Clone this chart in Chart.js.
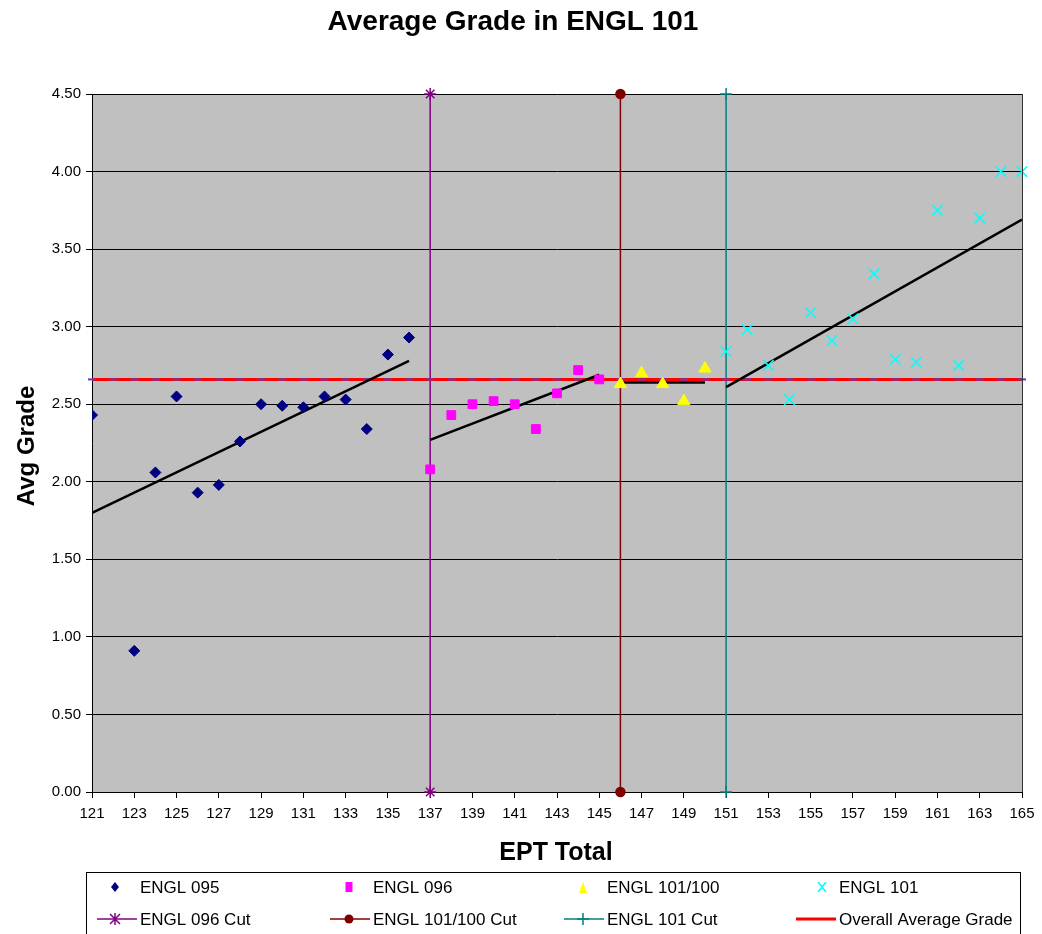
<!DOCTYPE html>
<html>
<head>
<meta charset="utf-8">
<title>Average Grade in ENGL 101</title>
<script src="https://cdn.jsdelivr.net/npm/chart.js@4.4.1/dist/chart.umd.min.js"></script>
<style>
    html, body { margin: 0; padding: 0; background: #fff; }
    #wrap { position: relative; width: 1042px; height: 934px; }
</style>
</head>
<body>
<div id="wrap"><canvas id="gradeChart" width="1042" height="934"></canvas></div>
<script>
const FONT = '"Liberation Sans", Arial, sans-serif';

// EPT scores and average grades per placement group
const ept095 = [121, 123, 124, 125, 126, 127, 128, 129, 130, 131, 132, 133, 134, 135, 136];
const grade095 = [2.43, 0.91, 2.06, 2.55, 1.93, 1.98, 2.26, 2.50, 2.49, 2.48, 2.55, 2.53, 2.34, 2.82, 2.93];

const ept096 = [137, 138, 139, 140, 141, 142, 143, 144, 145];
const grade096 = [2.08, 2.43, 2.50, 2.52, 2.50, 2.34, 2.57, 2.72, 2.66];

const ept101_100 = [146, 147, 148, 149, 150];
const grade101_100 = [2.63, 2.70, 2.63, 2.52, 2.73];

const ept101 = [151, 152, 153, 154, 155, 156, 157, 158, 159, 160, 161, 162, 163, 164, 165];
const grade101 = [2.84, 2.98, 2.75, 2.53, 3.09, 2.91, 3.05, 3.34, 2.79, 2.77, 3.75, 2.75, 3.70, 4.00, 4.00];

// trend line end points (x, y)
const trendX095 = [121, 136];
const trendY095 = [1.80, 2.78];
const trendX096 = [137, 145];
const trendY096 = [2.27, 2.69];
const trendX101_100 = [146, 150];
const trendY101_100 = [2.64, 2.64];
const trendX101 = [151, 165];
const trendY101 = [2.61, 3.69];

// cut scores, drawn as vertical lines
const cut096 = 137;
const cut101_100 = 146;
const cut101 = 151;
const cutRange = [0, 4.5];

// overall average, marked at every EPT score
const overallAverage = 2.66;
const allEpt = [121, 122, 123, 124, 125, 126, 127, 128, 129, 130, 131, 132, 133, 134, 135, 136, 137, 138, 139, 140, 141, 142, 143,
    144, 145, 146, 147, 148, 149, 150, 151, 152, 153, 154, 155, 156, 157, 158, 159, 160, 161, 162, 163, 164, 165];

const xMin = 121, xMax = 165, xStep = 2;
const yMin = 0, yMax = 4.5, yStep = 0.5;

const colors = {
    e095: '#000080',
    e096: '#FF00FF',
    e101_100: '#FFFF00',
    e101: '#00FFFF',
    cut096: '#800080',
    cut101_100: '#800000',
    cut101: '#008080',
    average: '#FF0000',
    avgDash: '#4444CC',
    trend: '#000000',
    plot: '#C0C0C0'
};

function toPoints(xs, ys) {
    return xs.map((x, i) => ({ x: x, y: ys[i] }));
}

function cutLine(x) {
    return cutRange.map(y => ({ x: x, y: y }));
}

function trendSet(xs, ys) {
    return {
        label: 'trend',
        data: toPoints(xs, ys),
        showLine: true,
        borderColor: colors.trend,
        borderWidth: 2.5,
        pointRadius: 0,
        order: 2
    };
}

// legend entries (drawn by the plugin below)
const legendItems = [
    { text: 'ENGL 095', style: 'diamond', color: colors.e095, line: false },
    { text: 'ENGL 096', style: 'square', color: colors.e096, line: false },
    { text: 'ENGL 101/100', style: 'triangle', color: colors.e101_100, line: false },
    { text: 'ENGL 101', style: 'x', color: colors.e101, line: false },
    { text: 'ENGL 096 Cut', style: 'star', color: colors.cut096, line: true },
    { text: 'ENGL 101/100 Cut', style: 'circle', color: colors.cut101_100, line: true },
    { text: 'ENGL 101 Cut', style: 'plus', color: colors.cut101, line: true },
    { text: 'Overall Average Grade', style: 'none', color: colors.average, line: true, thick: true }
];

function drawMarker(ctx, style, x, y, color) {
    ctx.save();
    ctx.fillStyle = color;
    ctx.strokeStyle = color;
    ctx.lineWidth = 1.5;
    ctx.beginPath();
    if (style === 'diamond') {
        ctx.moveTo(x, y - 5); ctx.lineTo(x + 4, y); ctx.lineTo(x, y + 5); ctx.lineTo(x - 4, y);
        ctx.closePath(); ctx.fill();
    } else if (style === 'square') {
        ctx.fillRect(x - 3.5, y - 5, 7, 10);
    } else if (style === 'triangle') {
        ctx.moveTo(x, y - 5); ctx.lineTo(x + 4, y + 6); ctx.lineTo(x - 4, y + 6);
        ctx.closePath(); ctx.fill();
    } else if (style === 'x') {
        ctx.moveTo(x - 4, y - 5); ctx.lineTo(x + 4, y + 5);
        ctx.moveTo(x + 4, y - 5); ctx.lineTo(x - 4, y + 5); ctx.stroke();
    } else if (style === 'star') {
        ctx.moveTo(x - 5, y - 5); ctx.lineTo(x + 5, y + 5);
        ctx.moveTo(x + 5, y - 5); ctx.lineTo(x - 5, y + 5);
        ctx.moveTo(x, y - 6); ctx.lineTo(x, y + 6); ctx.stroke();
    } else if (style === 'circle') {
        ctx.arc(x, y, 4.5, 0, Math.PI * 2); ctx.fill();
    } else if (style === 'plus') {
        ctx.moveTo(x - 6, y); ctx.lineTo(x + 6, y);
        ctx.moveTo(x, y - 6); ctx.lineTo(x, y + 6); ctx.stroke();
    }
    ctx.restore();
}

const excelLook = {
    id: 'excelLook',
    beforeDraw(chart) {
        const { ctx, chartArea: a } = chart;
        ctx.save();
        ctx.fillStyle = colors.plot;
        ctx.fillRect(a.left, a.top, a.right - a.left, a.bottom - a.top);
        ctx.restore();
    },
    afterDraw(chart) {
        const { ctx, chartArea: a } = chart;
        ctx.save();
        // plot area right edge
        ctx.strokeStyle = '#333';
        ctx.lineWidth = 1;
        ctx.beginPath();
        ctx.moveTo(a.right + 0.5, a.top);
        ctx.lineTo(a.right + 0.5, a.bottom);
        ctx.stroke();

        // titles
        ctx.fillStyle = '#000';
        ctx.textAlign = 'center';
        ctx.textBaseline = 'middle';
        ctx.font = 'bold 28px ' + FONT;
        ctx.fillText('Average Grade in ENGL 101', 513, 22);
        ctx.font = 'bold 25px ' + FONT;
        ctx.fillText('EPT Total', 556, 853);
        ctx.save();
        ctx.translate(27, 446);
        ctx.rotate(-Math.PI / 2);
        ctx.font = 'bold 24px ' + FONT;
        ctx.fillText('Avg Grade', 0, 0);
        ctx.restore();

        // legend box
        ctx.strokeStyle = '#000';
        ctx.lineWidth = 1;
        ctx.strokeRect(86.5, 872.5, 934, 80);
        const colMarker = [115, 349, 583, 822];
        const colText = [140, 373, 607, 839];
        const rowY = [887, 919];
        ctx.font = '17px ' + FONT;
        ctx.textAlign = 'left';
        legendItems.forEach((item, i) => {
            const col = i % 4;
            const row = Math.floor(i / 4);
            const y = rowY[row];
            const mx = colMarker[col];
            if (item.line) {
                ctx.save();
                ctx.strokeStyle = item.color;
                ctx.lineWidth = item.thick ? 3 : 1.5;
                ctx.beginPath();
                ctx.moveTo(colText[col] - 43, y);
                ctx.lineTo(colText[col] - 3, y);
                ctx.stroke();
                ctx.restore();
            }
            if (item.style !== 'none') {
                drawMarker(ctx, item.style, mx, y, item.color);
            }
            ctx.fillStyle = '#000';
            ctx.fillText(item.text, colText[col], y + 1);
        });
        ctx.restore();
    }
};

const ctx = document.getElementById('gradeChart').getContext('2d');

window.myChart = new Chart(ctx, {
    type: 'scatter',
    data: {
        datasets: [
            {
                label: 'ENGL 095',
                data: toPoints(ept095, grade095),
                pointStyle: 'rectRot',
                pointRadius: 5.5,
                backgroundColor: colors.e095,
                borderColor: colors.e095,
                borderWidth: 1,
                order: 1
            },
            {
                label: 'ENGL 096',
                data: toPoints(ept096, grade096),
                pointStyle: 'rect',
                pointRadius: 6.2,
                backgroundColor: colors.e096,
                borderColor: colors.e096,
                borderWidth: 1,
                order: 1
            },
            {
                label: 'ENGL 101/100',
                data: toPoints(ept101_100, grade101_100),
                pointStyle: 'triangle',
                pointRadius: 7,
                backgroundColor: colors.e101_100,
                borderColor: colors.e101_100,
                borderWidth: 1,
                order: 1
            },
            {
                label: 'ENGL 101',
                data: toPoints(ept101, grade101),
                pointStyle: 'crossRot',
                pointRadius: 7.5,
                backgroundColor: colors.e101,
                borderColor: colors.e101,
                borderWidth: 1.5,
                order: 1,
                clip: false
            },
            trendSet(trendX095, trendY095),
            trendSet(trendX096, trendY096),
            trendSet(trendX101_100, trendY101_100),
            trendSet(trendX101, trendY101),
            {
                label: 'avg marks',
                data: allEpt.map(x => ({ x: x, y: overallAverage })),
                pointStyle: 'line',
                pointRadius: 4,
                borderColor: colors.avgDash,
                borderWidth: 2,
                order: 3,
                clip: false
            },
            {
                label: 'Overall Average Grade',
                data: toPoints([xMin, xMax], [overallAverage, overallAverage]),
                showLine: true,
                borderColor: colors.average,
                borderWidth: 3,
                pointRadius: 0,
                order: 4,
                clip: false
            },
            {
                label: 'ENGL 096 Cut',
                data: cutLine(cut096),
                showLine: true,
                pointStyle: 'star',
                pointRadius: 6,
                borderColor: colors.cut096,
                backgroundColor: colors.cut096,
                borderWidth: 1.5,
                order: 5,
                clip: false
            },
            {
                label: 'ENGL 101/100 Cut',
                data: cutLine(cut101_100),
                showLine: true,
                pointStyle: 'circle',
                pointRadius: 4.5,
                borderColor: colors.cut101_100,
                backgroundColor: colors.cut101_100,
                borderWidth: 1.5,
                order: 5,
                clip: false
            },
            {
                label: 'ENGL 101 Cut',
                data: cutLine(cut101),
                showLine: true,
                pointStyle: 'cross',
                pointRadius: 6,
                borderColor: colors.cut101,
                backgroundColor: colors.cut101,
                borderWidth: 1.5,
                order: 5,
                clip: false
            }
        ]
    },
    options: {
        responsive: false,
        animation: false,
        layout: {
            padding: { left: 0, right: 20, top: 94, bottom: 82 }
        },
        plugins: {
            legend: { display: false },
            title: { display: false },
            tooltip: { enabled: false }
        },
        scales: {
            x: {
                type: 'linear',
                min: xMin,
                max: xMax,
                afterFit: scale => { scale.height = 60; },
                ticks: {
                    stepSize: xStep,
                    autoSkip: false,
                    maxRotation: 0,
                    padding: 7,
                    color: '#000',
                    font: { family: FONT, size: 15 }
                },
                grid: {
                    drawOnChartArea: false,
                    drawTicks: true,
                    tickLength: 6,
                    tickColor: '#000'
                },
                border: { color: '#000', width: 1 }
            },
            y: {
                type: 'linear',
                min: yMin,
                max: yMax,
                afterFit: scale => { scale.width = 92; },
                ticks: {
                    stepSize: yStep,
                    padding: 5,
                    color: '#000',
                    font: { family: FONT, size: 15 },
                    callback: value => Number(value).toFixed(2)
                },
                grid: {
                    color: '#000',
                    lineWidth: 1,
                    drawTicks: true,
                    tickLength: 6,
                    tickColor: '#000'
                },
                border: { color: '#000', width: 1 }
            }
        }
    },
    plugins: [excelLook]
});
</script>
</body>
</html>
